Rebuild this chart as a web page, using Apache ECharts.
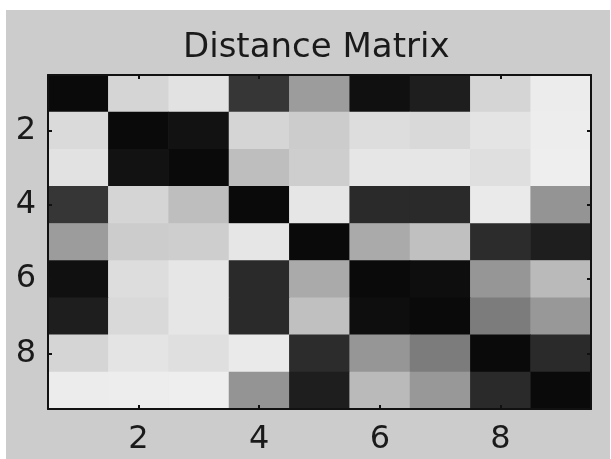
<!DOCTYPE html>
<html>
<head>
<meta charset="utf-8">
<script src="https://cdn.jsdelivr.net/npm/echarts@6/dist/echarts.min.js"></script>
<style>
html,body{margin:0;padding:0;background:#ffffff;}
#chart{width:611px;height:459px;}
</style>
</head>
<body>
<div id="chart"></div>
<script>
// Categories (matrix indices) and tick labels
const categories = ['1','2','3','4','5','6','7','8','9'];
const tickLabels = ['2','4','6','8'];
// Distance matrix rows, read as gray intensity (0 = black, 255 = white)
const row1 = [10, 213, 226, 54, 156, 16, 30, 213, 236];
const row2 = [218, 10, 18, 213, 204, 221, 217, 228, 237];
const row3 = [226, 18, 10, 190, 206, 230, 230, 223, 238];
const row4 = [54, 213, 190, 10, 230, 42, 42, 234, 148];
const row5 = [156, 204, 206, 230, 10, 170, 192, 44, 30];
const row6 = [16, 221, 230, 42, 170, 10, 14, 150, 186];
const row7 = [30, 217, 230, 42, 192, 14, 10, 124, 152];
const row8 = [213, 228, 223, 234, 44, 150, 124, 10, 42];
const row9 = [236, 237, 238, 148, 30, 186, 152, 42, 10];
const rows = [row1,row2,row3,row4,row5,row6,row7,row8,row9];

const data = [];
rows.forEach((r, i) => r.forEach((v, j) => data.push([j, i, v])));

const isTick = (idx, val) => tickLabels.indexOf(String(val)) >= 0;
const FONT = 'DejaVu Sans';
const lineStyle = {color: '#111111', width: 2};

const chart = echarts.init(document.getElementById('chart'));
chart.setOption({
  animation: false,
  backgroundColor: 'transparent',
  graphic: [{
    type: 'rect', z: -10, silent: true,
    shape: {x: 6, y: 10, width: 604, height: 449},
    style: {fill: '#cccccc'}
  }],
  title: {
    text: 'Distance Matrix',
    left: 178, top: 26,
    textStyle: {fontFamily: FONT, fontSize: 34, fontWeight: 'normal', color: '#1a1a1a'}
  },
  grid: {left: 48, right: 20, top: 75, bottom: 50},
  xAxis: [{
    type: 'category', data: categories, position: 'bottom', z: 5,
    axisLine: {lineStyle: lineStyle},
    axisTick: {show: true, inside: true, length: 4, alignWithLabel: true, interval: isTick, lineStyle: lineStyle},
    axisLabel: {interval: isTick, margin: 15, fontFamily: FONT, fontSize: 32, color: '#1a1a1a'},
    splitLine: {show: false}
  }, {
    type: 'category', data: categories, position: 'top', z: 5,
    axisLine: {lineStyle: lineStyle},
    axisTick: {show: true, inside: true, length: 4, alignWithLabel: true, interval: isTick, lineStyle: lineStyle},
    axisLabel: {show: false},
    splitLine: {show: false}
  }],
  yAxis: [{
    type: 'category', data: categories, inverse: true, position: 'left', z: 5,
    axisLine: {lineStyle: lineStyle},
    axisTick: {show: true, inside: true, length: 4, alignWithLabel: true, interval: isTick, lineStyle: lineStyle},
    axisLabel: {interval: isTick, margin: 12, fontFamily: FONT, fontSize: 32, color: '#1a1a1a'},
    splitLine: {show: false}
  }, {
    type: 'category', data: categories, inverse: true, position: 'right', z: 5,
    axisLine: {lineStyle: lineStyle},
    axisTick: {show: true, inside: true, length: 4, alignWithLabel: true, interval: isTick, lineStyle: lineStyle},
    axisLabel: {show: false},
    splitLine: {show: false}
  }],
  visualMap: {
    show: false, min: 0, max: 255, dimension: 2,
    inRange: {color: ['#000000', '#ffffff']}
  },
  series: [{
    type: 'heatmap', xAxisIndex: 0, yAxisIndex: 0,
    data: data,
    itemStyle: {borderWidth: 0},
    emphasis: {disabled: true}
  }]
});
</script>
</body>
</html>
